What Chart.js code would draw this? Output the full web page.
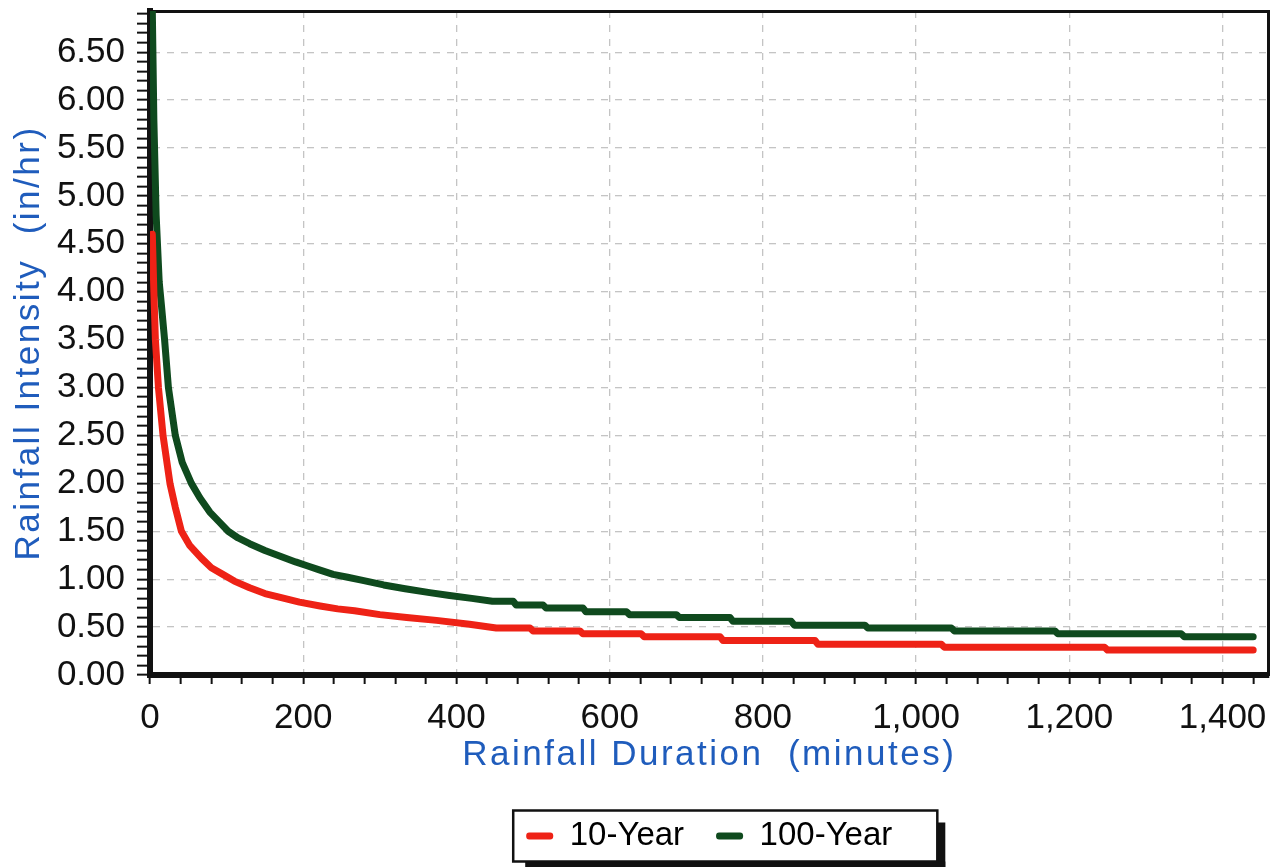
<!DOCTYPE html>
<html>
<head>
<meta charset="utf-8">
<title>Rainfall Intensity vs Duration</title>
<script src="https://cdn.jsdelivr.net/npm/chart.js@4.4.0/dist/chart.umd.min.js"></script>
<style>
  html, body { margin: 0; padding: 0; background: #fff; }
  #wrap { width: 1279px; height: 867px; }
</style>
</head>
<body>
<div id="wrap"><canvas id="chart" width="1279" height="867"></canvas></div>
<script>
// IDF curves, values (duration in minutes, intensity in in/hr)
const SERIES_NAMES = ['10-Year', '100-Year']

const RED_T = [3, 5, 7, 11, 17, 26, 33, 41, 52, 67, 80, 95, 110, 130, 150, 170, 195, 222, 245, 267, 300, 335, 374, 417,
  452, 496, 500, 561, 565, 641, 645, 744, 748, 868, 872, 1033, 1037, 1246, 1250, 1440]
const RED_V = [4.60, 4.00, 3.50, 3.00, 2.50, 2.00, 1.75, 1.50, 1.35, 1.22, 1.12, 1.05, 0.98, 0.91, 0.85, 0.81, 0.76, 0.72, 0.69, 0.67, 0.63, 0.60, 0.57, 0.53,
  0.49, 0.49, 0.46, 0.46, 0.43, 0.43, 0.40, 0.40, 0.36, 0.36, 0.32, 0.32, 0.29, 0.29, 0.26, 0.26]

const GREEN_T = [3, 5, 8, 12, 15, 19, 24, 33, 42, 54, 65, 78, 90, 102, 115, 130, 150, 170, 190, 205, 220, 239, 258, 276, 305, 333, 365, 391, 420,
  447, 474, 478, 513, 517, 565, 569, 622, 626, 687, 691, 757, 761, 837, 841, 933, 937, 1046, 1050, 1181, 1185, 1346, 1350, 1440]
const GREEN_V = [6.93, 5.80, 4.80, 4.10, 3.85, 3.50, 3.00, 2.50, 2.22, 2.00, 1.85, 1.70, 1.60, 1.50, 1.43, 1.37, 1.30, 1.24, 1.18, 1.14, 1.10, 1.05, 1.02, 0.99, 0.94, 0.90, 0.86, 0.83, 0.80,
  0.77, 0.77, 0.73, 0.73, 0.70, 0.70, 0.66, 0.66, 0.63, 0.63, 0.60, 0.60, 0.56, 0.56, 0.52, 0.52, 0.49, 0.49, 0.46, 0.46, 0.43, 0.43, 0.40, 0.40]

const X_MAX = 1460
const X_STEP = 40      // minor tick
const X_MAJOR = 200    // labelled tick
const Y_MAX = 6.93
const Y_STEP = 0.1
const Y_MAJOR = 0.5

const RED = '#ee2216'
const GREEN = '#0f4a1e'
const BLUE = '#1f5cbc'
const GRID = '#c4c4c4'
const FONT = "'Liberation Sans', Arial, sans-serif"
const TITLE_SPACING = 2.5

const isMajor = (v, step) => Math.abs(v / step - Math.round(v / step)) < 1e-6

const toPoints = (ts, vs) => ts.map((t, i) => ({ x: t, y: vs[i] }))

// axis titles are drawn after the datasets (grid z = 1), give them the scan's wide letter spacing
const titleSpacing = {
  id: 'titleSpacing',
  afterDatasetsDraw (chart) { chart.ctx.letterSpacing = TITLE_SPACING + 'px' },
  afterDraw (chart) { chart.ctx.letterSpacing = '0px' }
}

// boxed legend with a drop shadow
const legendFrame = {
  id: 'legendFrame',
  afterDraw (chart) {
    const boxes = chart.legend && chart.legend.legendHitBoxes
    if (!boxes || !boxes.length) return
    const first = boxes[0]
    const last = boxes[boxes.length - 1]
    const x1 = first.left - 13
    const x2 = last.left + last.width + 45
    const y1 = first.top - 9
    const y2 = first.top + first.height + 9
    const { ctx } = chart
    ctx.save()
    ctx.fillStyle = '#111'
    ctx.fillRect(x2, y1 + 12, 8, y2 - y1 - 6)
    ctx.fillRect(x1 + 12, y2, x2 - x1 - 4, 6)
    ctx.strokeStyle = '#111'
    ctx.lineWidth = 2.5
    ctx.strokeRect(x1, y1, x2 - x1, y2 - y1)
    ctx.restore()
  }
}

const lineStyle = color => ({
  borderColor: color,
  backgroundColor: color,
  borderWidth: 7,
  pointRadius: 0,
  tension: 0,
  fill: false,
  borderCapStyle: 'round',
  borderJoinStyle: 'round'
})

const hiddenAxis = position => ({
  type: 'linear',
  position,
  display: true,
  grid: { display: false, drawTicks: false },
  ticks: { display: false },
  border: { display: true, width: 3, color: '#111' }
})

const titleAxis = (position, text, padding) => ({
  type: 'linear',
  position,
  display: true,
  grid: { display: false, drawTicks: false, z: 1 },
  ticks: { display: false },
  border: { display: false },
  title: { display: true, text, color: BLUE, font: { family: FONT, size: 35, lineHeight: 1 }, padding }
})

new Chart(document.getElementById('chart'), {
  type: 'line',
  data: {
    datasets: [
      { label: SERIES_NAMES[0], data: toPoints(RED_T, RED_V), ...lineStyle(RED) },
      { label: SERIES_NAMES[1], data: toPoints(GREEN_T, GREEN_V), ...lineStyle(GREEN) }
    ]
  },
  options: {
    responsive: false,
    animation: false,
    layout: { padding: { left: 0, right: 10.5, top: 11, bottom: 4.5 } },
    scales: {
      x: {
        type: 'linear',
        position: 'bottom',
        min: 0,
        max: X_MAX,
        grid: {
          color: c => (c.tick && c.tick.value > 0 && isMajor(c.tick.value, X_MAJOR)) ? GRID : 'rgba(0,0,0,0)',
          lineWidth: 1.3,
          tickColor: '#111',
          tickWidth: 2,
          tickLength: 9,
          tickBorderDash: []
        },
        border: { display: true, width: 6, color: '#111', dash: [7, 7] },
        ticks: {
          stepSize: X_STEP,
          autoSkip: false,
          maxRotation: 0,
          minRotation: 0,
          includeBounds: false,
          padding: 16.5,
          color: '#111',
          font: { family: FONT, size: 35, lineHeight: 1 },
          callback: v => isMajor(v, X_MAJOR) ? Number(v).toLocaleString('en-US') : ''
        }
      },
      y: {
        type: 'linear',
        position: 'left',
        min: 0,
        max: Y_MAX,
        grid: {
          color: c => (c.tick && c.tick.value > 0 && isMajor(c.tick.value, Y_MAJOR)) ? GRID : 'rgba(0,0,0,0)',
          lineWidth: 1.3,
          tickColor: '#111',
          tickWidth: 2,
          tickLength: 13,
          tickBorderDash: []
        },
        border: { display: true, width: 6, color: '#111', dash: [7, 7] },
        ticks: {
          stepSize: Y_STEP,
          autoSkip: false,
          includeBounds: false,
          padding: 12,
          color: '#111',
          font: { family: FONT, size: 35, lineHeight: 1 },
          callback: v => isMajor(v, Y_MAJOR) ? v.toFixed(2) : ''
        },
        afterFit: axis => { axis.paddingTop = 0 }
      },
      x2: hiddenAxis('top'),
      y2: hiddenAxis('right'),
      yTitle: titleAxis('left', 'Rainfall Intensity  (in/hr)', { top: 12, bottom: -2.1 }),
      xTitle: titleAxis('bottom', 'Rainfall Duration  (minutes)', { top: -14.5, bottom: 15 })
    },
    plugins: {
      title: { display: false },
      tooltip: { enabled: false },
      legend: {
        position: 'bottom',
        fullSize: false,
        maxHeight: 75,
        labels: {
          color: '#111',
          font: { family: FONT, size: 33 },
          boxWidth: 27,
          boxHeight: 7,
          padding: 32,
          useBorderRadius: true,
          borderRadius: 3,
          generateLabels: chart => chart.data.datasets.map((ds, i) => ({
            text: ds.label,
            fillStyle: ds.borderColor,
            strokeStyle: ds.borderColor,
            lineWidth: 0,
            borderRadius: 3,
            hidden: false,
            datasetIndex: i
          }))
        }
      }
    }
  },
  plugins: [titleSpacing, legendFrame]
})
</script>
</body>
</html>
